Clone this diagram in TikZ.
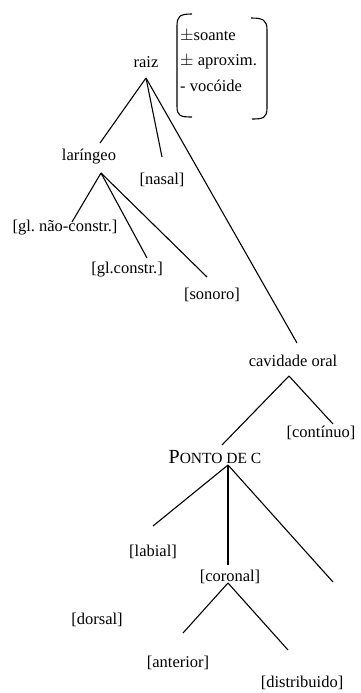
\documentclass[tikz,border=0pt]{standalone}
\usepackage{fontspec}
\setmainfont{Liberation Serif}
\frenchspacing
\begin{document}
\begin{tikzpicture}[x=1pt,y=-1pt,
  lbl/.style={inner sep=0pt,font=\fontsize{16.5}{18}\selectfont},
  br/.style={line width=1.1pt},
  edge/.style={line width=1.1pt}]
\useasboundingbox (0,0) rectangle (361,693);
% labels
\node[lbl] (raiz) at (146,62) {raiz};
\node[lbl,anchor=west,align=left,font=\fontsize{16.5}{25.5}\selectfont] (feat) at (180,61) {$\pm$soante\\$\pm$ aproxim.\\- voc\'oide};
\node[lbl] (lar) at (89,157) {lar\'ingeo};
\node[lbl] (nasal) at (162,180) {[nasal]};
\node[lbl] (glnc) at (65,228) {[gl. n\~ao-constr.]};
\node[lbl] (glc) at (127,270) {[gl.constr.]};
\node[lbl] (son) at (212,295) {[sonoro]};
\node[lbl] (cav) at (293,361) {cavidade oral};
\node[lbl] (cont) at (321,433) {[cont\'inuo]};
\node[lbl] (ponto) at (215,457) {{\fontsize{20}{21}\selectfont P}{\fontsize{15.5}{16}\selectfont ONTO DE C}};
\node[lbl] (lab) at (153,552) {[labial]};
\node[lbl] (cor) at (230,577) {[coronal]};
\node[lbl] (dor) at (97,620) {[dorsal]};
\node[lbl] (ant) at (178,663) {[anterior]};
\node[lbl] (dist) at (302,683) {[distribuido]};
% apex coordinates
\coordinate (raizA) at (146,78);
\coordinate (larA) at (101,173);
\coordinate (cavA) at (289,376);
\coordinate (pontoA) at (228,465);
\coordinate (corA) at (228,583);
% free ends
\coordinate (eLar) at (100,143);
\coordinate (eNasal) at (162,157);
\coordinate (eCav) at (297,343);
\coordinate (eGlnc) at (72,222);
\coordinate (eGlc) at (147,258);
\coordinate (eSon) at (207,277);
\coordinate (eCont) at (333,424);
\coordinate (ePonto) at (222,445);
\coordinate (eLab) at (153,526);
\coordinate (eCor) at (228,565);
\coordinate (eDor) at (333,582);
\coordinate (eAnt) at (183,633);
\coordinate (eDist) at (288,650);
% edges
\draw[edge] (raizA) -- (eLar);
\draw[edge] (raizA) -- (eNasal);
\draw[edge] (raizA) -- (eCav);
\draw[edge] (larA) -- (eGlnc);
\draw[edge] (larA) -- (eGlc);
\draw[edge] (larA) -- (eSon);
\draw[edge] (cavA) -- (ePonto);
\draw[edge] (cavA) -- (eCont);
\draw[edge] (pontoA) -- (eLab);
\draw[edge] (pontoA) -- (eCor);
\draw[edge] (pontoA) -- (eDor);
\draw[edge] (corA) -- (eAnt);
\draw[edge] (corA) -- (eDist);
% brackets
\draw[br] (192,14) .. controls (180,14) and (177,16) .. (177,26) -- (177,106) .. controls (177,116) and (180,117) .. (192,117);
\draw[br] (251,18) .. controls (263,18) and (267,20) .. (267,30) -- (267,108) .. controls (267,118) and (263,119) .. (252,119);
\end{tikzpicture}
\end{document}
